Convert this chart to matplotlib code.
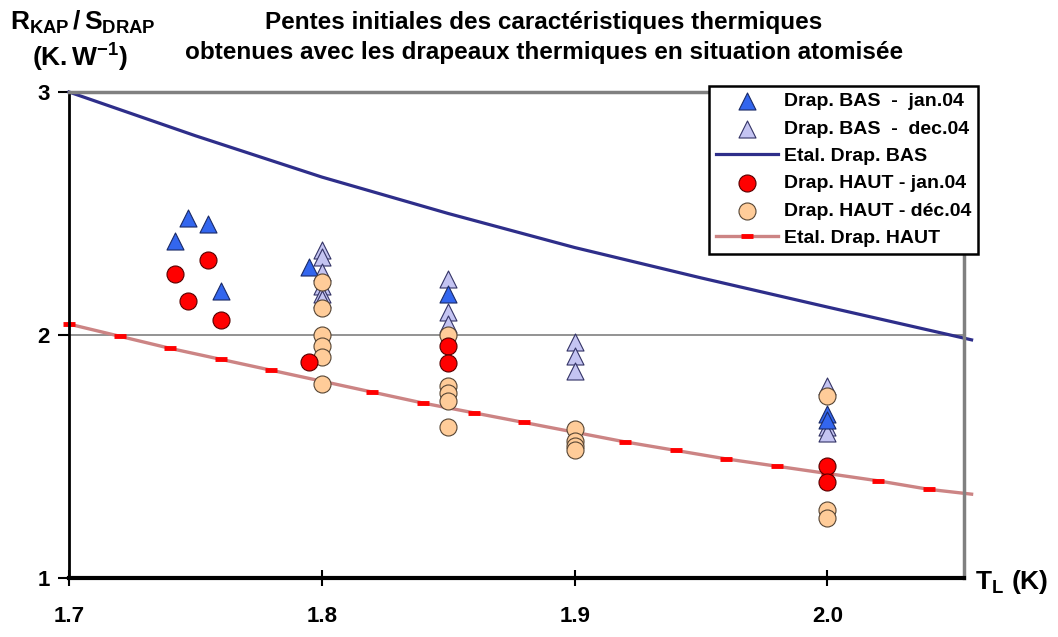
import numpy as np
import matplotlib
matplotlib.use("Agg")
from matplotlib import pyplot as plt

plt.rcParams['font.family'] = ['Liberation Sans', 'DejaVu Sans']
plt.rcParams['font.weight'] = 'bold'
plt.rcParams['mathtext.fontset'] = 'custom'
plt.rcParams['mathtext.rm'] = 'Liberation Sans:bold'
plt.rcParams['mathtext.bf'] = 'Liberation Sans:bold'
plt.rcParams['mathtext.it'] = 'Liberation Sans:bold'

# donnees
bas_jan_x = [1.742, 1.747, 1.755, 1.760, 1.795, 1.85, 2.0, 2.0]
bas_jan_y = [2.385, 2.48, 2.455, 2.18, 2.28, 2.17, 1.675, 1.65]

bas_dec_x = [1.8, 1.8, 1.8, 1.8, 1.8, 1.8, 1.85, 1.85, 1.85, 1.9, 1.9, 1.9, 2.0, 2.0, 2.0]
bas_dec_y = [2.35, 2.32, 2.26, 2.20, 2.17, 2.15, 2.23, 2.095, 2.045, 1.97, 1.915, 1.85, 1.79, 1.62, 1.595]

haut_jan_x = [1.742, 1.747, 1.755, 1.760, 1.795, 1.85, 1.85, 2.0, 2.0]
haut_jan_y = [2.25, 2.14, 2.31, 2.06, 1.89, 1.955, 1.885, 1.46, 1.395]

haut_dec_x = [1.8, 1.8, 1.8, 1.8, 1.8, 1.8, 1.85, 1.85, 1.85, 1.85, 1.85,
              1.9, 1.9, 1.9, 1.9, 2.0, 2.0, 2.0]
haut_dec_y = [2.22, 2.11, 2.0, 1.955, 1.91, 1.80, 2.0, 1.79, 1.76, 1.73, 1.62,
              1.615, 1.565, 1.545, 1.525, 1.75, 1.28, 1.245]

# courbes d'etalonnage
etal_bas_x = [1.70, 1.75, 1.80, 1.85, 1.90, 1.95, 2.00, 2.057]
etal_bas_y = [3.00, 2.82, 2.65, 2.50, 2.36, 2.235, 2.115, 1.98]

etal_haut_x = [1.70, 1.72, 1.74, 1.76, 1.78, 1.80, 1.82, 1.84, 1.86, 1.88,
               1.90, 1.92, 1.94, 1.96, 1.98, 2.00, 2.02, 2.04, 2.057]
etal_haut_y = [2.045, 1.995, 1.945, 1.90, 1.855, 1.81, 1.765, 1.72, 1.68, 1.64,
               1.60, 1.56, 1.525, 1.49, 1.46, 1.43, 1.40, 1.365, 1.345]

x_ticks = [1.7, 1.8, 1.9, 2.0]
x_labels = ['1.7', '1.8', '1.9', '2.0']
y_ticks = [1, 2, 3]

fig = plt.figure(figsize=(10.58, 6.37), dpi=100)
ax = fig.add_axes([69/1058, 1 - 578/637, (964-69)/1058, (578-92)/637])

ax.axhline(2, color='#808080', lw=1.2, zorder=1)

h_bas, = ax.plot(etal_bas_x, etal_bas_y, color='#2e2e8a', lw=2.3, zorder=2,
                 clip_on=False, label='Etal. Drap. BAS')
h_haut, = ax.plot(etal_haut_x, etal_haut_y, color='#cc8484', lw=2.4, zorder=2,
                  clip_on=False, marker='_', ms=9, mew=3.5, mec='#ff0000',
                  markevery=list(range(len(etal_haut_x) - 1)),
                  label='Etal. Drap. HAUT')

h_bd = ax.scatter(bas_dec_x, bas_dec_y, marker='^', s=150, c='#c4c4f2',
                  edgecolors='#333366', linewidths=0.8, zorder=3,
                  label='Drap. BAS  -  dec.04')
h_bj = ax.scatter(bas_jan_x, bas_jan_y, marker='^', s=150, c='#3366ee',
                  edgecolors='#1a2a66', linewidths=0.8, zorder=4,
                  label='Drap. BAS  -  jan.04')
h_hd = ax.scatter(haut_dec_x, haut_dec_y, marker='o', s=150, c='#ffcc99',
                  edgecolors='#554433', linewidths=0.8, zorder=5,
                  label='Drap. HAUT - déc.04')
h_hj = ax.scatter(haut_jan_x, haut_jan_y, marker='o', s=150, c='#ff0000',
                  edgecolors='#550000', linewidths=0.8, zorder=6,
                  label='Drap. HAUT - jan.04')

ax.set_xlim(1.7, 2.054)
ax.set_ylim(1, 3)
ax.set_xticks(x_ticks)
ax.set_xticklabels(x_labels)
ax.set_yticks(y_ticks)
ax.tick_params(axis='x', direction='inout', length=12, width=1.5, pad=14, labelsize=16)
ax.tick_params(axis='y', direction='out', length=8, width=1.5, pad=6, labelsize=16)

ax.spines['left'].set_color('black')
ax.spines['left'].set_linewidth(2)
ax.spines['bottom'].set_color('black')
ax.spines['bottom'].set_linewidth(3)
ax.spines['top'].set_color('#808080')
ax.spines['top'].set_linewidth(2.5)
ax.spines['right'].set_color('#808080')
ax.spines['right'].set_linewidth(2.5)

leg = fig.legend(handles=[h_bj, h_bd, h_bas, h_hj, h_hd, h_haut],
                 loc='upper left', bbox_to_anchor=(709/1058, 1 - 86/637),
                 fontsize=14, frameon=True, fancybox=False, framealpha=1,
                 edgecolor='black', handlelength=3.2, handletextpad=0.3,
                 labelspacing=0.5, borderpad=0.35, borderaxespad=0)
leg.get_frame().set_linewidth(1.8)
leg.set_zorder(10)

fig.text(544/1058, 1 - 22/637, 'Pentes initiales des caractéristiques thermiques',
         ha='center', va='center', fontsize=17.5, fontweight='bold')
fig.text(544/1058, 1 - 53/637, 'obtenues avec les drapeaux thermiques en situation atomisée',
         ha='center', va='center', fontsize=17.5, fontweight='bold')

fig.text(10/1058, 1 - 22/637, r'$\mathrm{R_{KAP}\,/\,S_{DRAP}}$',
         ha='left', va='center', fontsize=19)
fig.text(80/1058, 1 - 58/637, r'$\mathrm{(K.W^{-1})}$',
         ha='center', va='center', fontsize=19)
fig.text(975/1058, 1 - 582/637, r'$\mathrm{T_L\ (K)}$',
         ha='left', va='center', fontsize=19)

fig.savefig('out.png', dpi=100)
